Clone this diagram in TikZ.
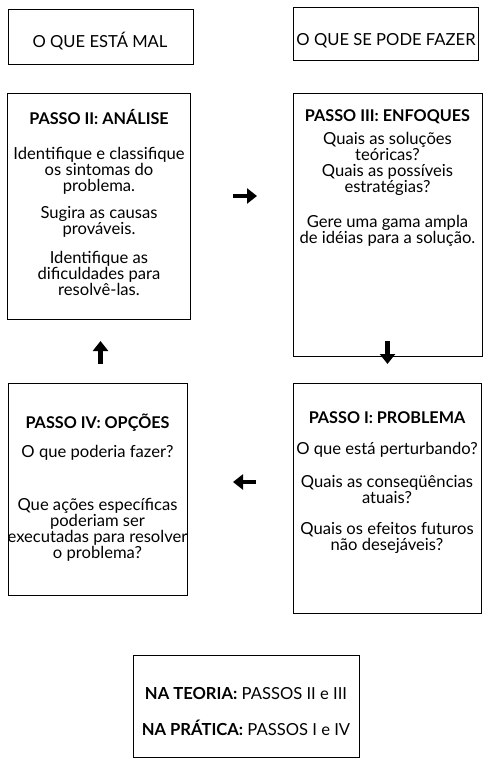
\documentclass[tikz,border=0pt]{standalone}
\usepackage{fontspec}
\setmainfont{Lato}
\usetikzlibrary{arrows.meta}
\begin{document}
\begin{tikzpicture}[x=1pt,y=-1pt,
  box/.style={draw=black,line width=0.8pt},
  txt/.style={font=\fontsize{16.6}{16}\selectfont,align=center,inner sep=0pt},
  ttl/.style={font=\fontsize{16.2}{16}\selectfont\bfseries,align=center,inner sep=0pt},
  bigarrow/.style={line width=4.6pt,-{Triangle[length=10pt,width=15pt]}}]
\useasboundingbox (0,0) rectangle (487,762);
% boxes
\draw[box] (8,9) rectangle (193,64);
\draw[box] (293,7) rectangle (478,60);
\draw[box] (7,93) rectangle (190,319);
\draw[box] (293,93) rectangle (482,356);
\draw[box] (8,383) rectangle (187,595);
\draw[box] (293,383) rectangle (481,613);
\draw[box] (133,655) rectangle (359,757);
% top headers
\node[txt] (h1) at (100,41) {O QUE ESTÁ MAL};
\node[txt] (h2) at (386,41) {O QUE SE PODE FAZER};
% Passo II
\node[ttl] (p2t) at (99,117) {PASSO II: ANÁLISE};
\node[txt] (p2a) at (99,171) {Identifique e classifique\\os sintomas do\\problema.};
\node[txt] (p2b) at (99,222) {Sugira as causas\\prováveis.};
\node[txt] (p2c) at (99,273) {Identifique as\\dificuldades para\\resolvê-las.};
% Passo III
\node[ttl] (p3t) at (387.5,117) {PASSO III: ENFOQUES};
\node[txt] (p3a) at (387.5,164) {Quais as soluções\\teóricas?\\Quais as possíveis\\estratégias?};
\node[txt] (p3c) at (387.5,231) {Gere uma gama ampla\\de idéias para a solução.};
% Passo IV
\node[ttl] (p4t) at (97.5,423) {PASSO IV: OPÇÕES};
\node[txt] (p4a) at (97.5,453) {O que poderia fazer?};
\node[txt] (p4b) at (97.5,530) {Que ações específicas\\poderiam ser\\executadas para resolver\\o problema?};
% Passo I
\node[ttl] (p1t) at (387,418) {PASSO I: PROBLEMA};
\node[txt] (p1a) at (387,450) {O que está perturbando?};
\node[txt] (p1b) at (387,490) {Quais as conseqüências\\atuais?};
\node[txt] (p1c) at (387,538) {Quais os efeitos futuros\\não desejáveis?};
% bottom
\node[txt] (b1) at (246,693) {\textbf{NA TEORIA:} PASSOS II e III};
\node[txt] (b2) at (246,728) {\textbf{NA PRÁTICA:} PASSOS I e IV};
% arrows
\coordinate (r1) at (233,196); \coordinate (r2) at (257,196);
\coordinate (d1) at (387.5,341); \coordinate (d2) at (387.5,364);
\coordinate (l1) at (256,482); \coordinate (l2) at (233,482);
\coordinate (u1) at (100.5,364); \coordinate (u2) at (100.5,341);
\draw[bigarrow] (r1) -- (r2);
\draw[bigarrow] (d1) -- (d2);
\draw[bigarrow] (l1) -- (l2);
\draw[bigarrow] (u1) -- (u2);
\end{tikzpicture}
\end{document}
